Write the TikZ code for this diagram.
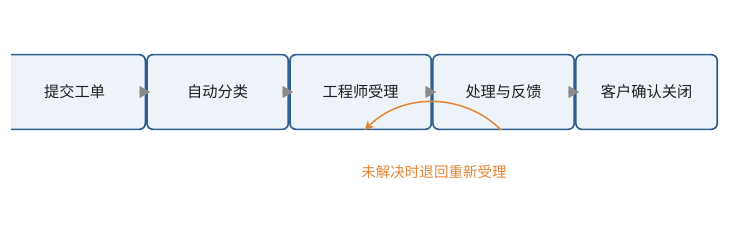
\documentclass[tikz,border=0pt]{standalone}
\usepackage{fontspec}
\setmainfont{Noto Sans CJK SC}
\usetikzlibrary{arrows.meta, positioning}
\definecolor{flowBlue}{HTML}{2F5F8F}
\definecolor{flowFill}{HTML}{EEF3FA}
\definecolor{flowGray}{HTML}{8A8A8A}
\definecolor{flowOrange}{HTML}{E0873A}
\definecolor{textDark}{HTML}{1F1F1F}

\begin{document}
\begin{tikzpicture}[
    fase/.style={rectangle, rounded corners=5pt, fill=flowFill, draw=flowBlue,
      line width=1.4pt, minimum width=4.24cm, minimum height=2.24cm, align=center,
      font=\fontsize{13}{15}\selectfont, text=textDark, inner sep=0pt},
    fl/.style={-{Triangle[length=9pt, width=10pt]}, line width=0.3pt, flowGray},
    volver/.style={-{Stealth[length=8pt, width=8pt]}, line width=1.3pt, flowOrange},
    nota/.style={font=\fontsize{12.4}{14}\selectfont, text=flowOrange}]
    \useasboundingbox (0,0) rectangle (22.14,-6.99);
    \clip (0.33,0) rectangle (22.14,-6.99);
    \node[fase] (f1) at (2.24,-2.76) {提交工单};
    \node[fase, right=0pt of f1] (f2) {自动分类};
    \node[fase, right=0pt of f2] (f3) {工程师受理};
    \node[fase, right=0pt of f3] (f4) {处理与反馈};
    \node[fase, right=0pt of f4] (f5) {客户确认关闭};
    \foreach \a/\b in {f1/f2, f2/f3, f3/f4, f4/f5}
      \draw[fl] ([xshift=-0.2cm]\a.east) -- ([xshift=0.12cm]\b.west);
    % regreso
    \draw[volver] ([xshift=-0.07cm]f4.south) to[bend right=45] ([xshift=0.12cm]f3.south);
    \node[nota] (n1) at (13.02,-5.16) {未解决时退回重新受理};
  \end{tikzpicture}
\end{document}
